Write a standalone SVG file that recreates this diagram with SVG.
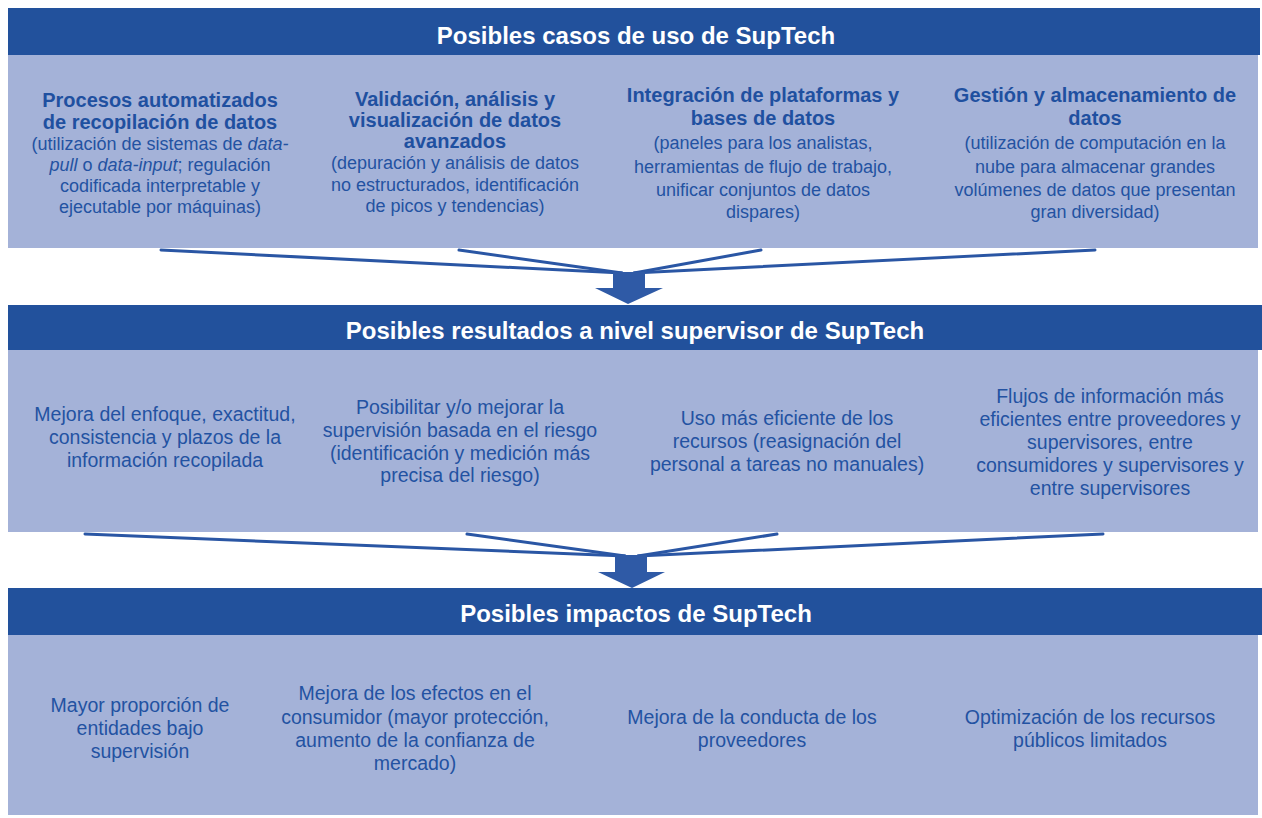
<svg xmlns="http://www.w3.org/2000/svg" width="1262" height="818" viewBox="0 0 1262 818">
<style>
.hdr{fill:#22519c}
.pnl{fill:#a4b2d8}
.ht{font-family:"Liberation Sans",Arial,sans-serif;font-size:24px;font-weight:bold;fill:#ffffff;text-anchor:middle}
.tb{font-family:"Liberation Sans",Arial,sans-serif;font-size:20px;font-weight:bold;fill:#1f50a0;text-anchor:middle}
.tr{font-family:"Liberation Sans",Arial,sans-serif;font-size:18px;fill:#2352a2;text-anchor:middle}
.tm{font-family:"Liberation Sans",Arial,sans-serif;font-size:19.5px;fill:#2352a2;text-anchor:middle}
.con{stroke:#2a56a4;stroke-width:3;fill:none;stroke-linecap:round}
.arr{fill:#2f5aa6}
</style>
<rect width="1262" height="818" fill="#ffffff"/>

<g id="header1">
<rect class="hdr" x="8" y="8" width="1252" height="47"/>
<text class="ht" x="636" y="44">Posibles casos de uso de SupTech</text>
</g>
<g id="panel1">
<rect class="pnl" x="8" y="55" width="1250" height="193"/>
</g>
<g id="uso1">
<text class="tb" x="160" y="107">Procesos automatizados</text>
<text class="tb" x="160" y="129">de recopilación de datos</text>
<text class="tr" x="160" y="150">(utilización de sistemas de <tspan font-style="italic">data-</tspan></text>
<text class="tr" x="160" y="171"><tspan font-style="italic">pull</tspan> o <tspan font-style="italic">data-input</tspan>; regulación</text>
<text class="tr" x="160" y="192">codificada interpretable y</text>
<text class="tr" x="160" y="213">ejecutable por máquinas)</text>
</g>
<g id="uso2">
<text class="tb" x="455" y="106">Validación, análisis y</text>
<text class="tb" x="455" y="127">visualización de datos</text>
<text class="tb" x="455" y="148">avanzados</text>
<text class="tr" x="455" y="169">(depuración y análisis de datos</text>
<text class="tr" x="455" y="191">no estructurados, identificación</text>
<text class="tr" x="455" y="212">de picos y tendencias)</text>
</g>
<g id="uso3">
<text class="tb" x="763" y="102">Integración de plataformas y</text>
<text class="tb" x="763" y="125">bases de datos</text>
<text class="tr" x="763" y="149">(paneles para los analistas,</text>
<text class="tr" x="763" y="173">herramientas de flujo de trabajo,</text>
<text class="tr" x="763" y="196">unificar conjuntos de datos</text>
<text class="tr" x="763" y="218">dispares)</text>
</g>
<g id="uso4">
<text class="tb" x="1095" y="102">Gestión y almacenamiento de</text>
<text class="tb" x="1095" y="125">datos</text>
<text class="tr" x="1095" y="149">(utilización de computación en la</text>
<text class="tr" x="1095" y="173">nube para almacenar grandes</text>
<text class="tr" x="1095" y="196">volúmenes de datos que presentan</text>
<text class="tr" x="1095" y="218">gran diversidad)</text>
</g>

<g id="header2">
<rect class="hdr" x="8" y="305" width="1254" height="45"/>
<text class="ht" x="635" y="339">Posibles resultados a nivel supervisor de SupTech</text>
</g>
<g id="panel2">
<rect class="pnl" x="8" y="350" width="1250" height="182"/>
</g>
<g id="res1">
<text class="tm" x="165" y="421">Mejora del enfoque, exactitud,</text>
<text class="tm" x="165" y="444">consistencia y plazos de la</text>
<text class="tm" x="165" y="467">información recopilada</text>
</g>
<g id="res2">
<text class="tm" x="460" y="414">Posibilitar y/o mejorar la</text>
<text class="tm" x="460" y="437">supervisión basada en el riesgo</text>
<text class="tm" x="460" y="460">(identificación y medición más</text>
<text class="tm" x="460" y="482">precisa del riesgo)</text>
</g>
<g id="res3">
<text class="tm" x="787" y="425">Uso más eficiente de los</text>
<text class="tm" x="787" y="448">recursos (reasignación del</text>
<text class="tm" x="787" y="471">personal a tareas no manuales)</text>
</g>
<g id="res4">
<text class="tm" x="1110" y="403">Flujos de información más</text>
<text class="tm" x="1110" y="426">eficientes entre proveedores y</text>
<text class="tm" x="1110" y="449">supervisores, entre</text>
<text class="tm" x="1110" y="472">consumidores y supervisores y</text>
<text class="tm" x="1110" y="495">entre supervisores</text>
</g>

<g id="header3">
<rect class="hdr" x="8" y="588" width="1254" height="47"/>
<text class="ht" x="636" y="622">Posibles impactos de SupTech</text>
</g>
<g id="panel3">
<rect class="pnl" x="8" y="635" width="1250" height="180"/>
</g>
<g id="imp1">
<text class="tm" x="140" y="712">Mayor proporción de</text>
<text class="tm" x="140" y="735">entidades bajo</text>
<text class="tm" x="140" y="758">supervisión</text>
</g>
<g id="imp2">
<text class="tm" x="415" y="700">Mejora de los efectos en el</text>
<text class="tm" x="415" y="724">consumidor (mayor protección,</text>
<text class="tm" x="415" y="747">aumento de la confianza de</text>
<text class="tm" x="415" y="770">mercado)</text>
</g>
<g id="imp3">
<text class="tm" x="752" y="724">Mejora de la conducta de los</text>
<text class="tm" x="752" y="747">proveedores</text>
</g>
<g id="imp4">
<text class="tm" x="1090" y="724">Optimización de los recursos</text>
<text class="tm" x="1090" y="747">públicos limitados</text>
</g>

<g id="connectors">
<line class="con" x1="161" y1="250" x2="622" y2="273"/>
<line class="con" x1="459" y1="250" x2="622" y2="273"/>
<line class="con" x1="761" y1="250" x2="634" y2="273"/>
<line class="con" x1="1095" y1="250" x2="634" y2="273"/>
<polygon class="arr" points="613,272 645,272 645,288 663,288 628,304 595,288 613,288"/>
<line class="con" x1="85" y1="534" x2="625" y2="556"/>
<line class="con" x1="467" y1="534" x2="625" y2="556"/>
<line class="con" x1="777" y1="534" x2="638" y2="556"/>
<line class="con" x1="1103" y1="534" x2="638" y2="556"/>
<polygon class="arr" points="615,555 647,555 647,572 665,572 632,588 598,572 615,572"/>
</g>
</svg>
